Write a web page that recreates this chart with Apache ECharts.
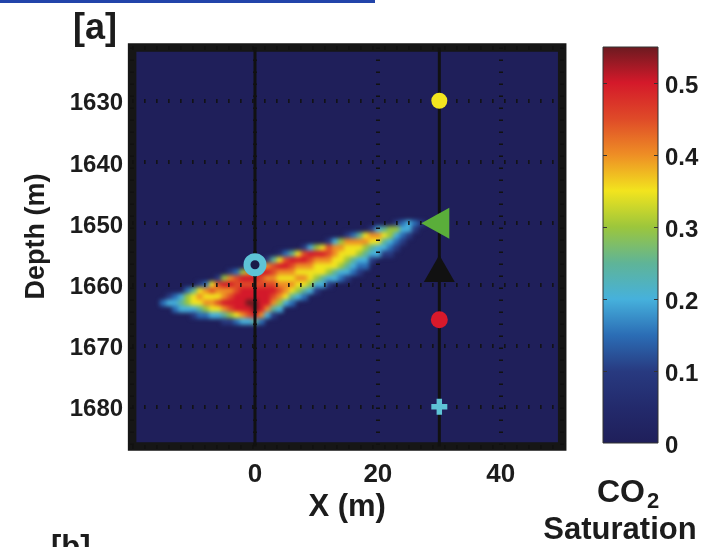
<!DOCTYPE html>
<html><head><meta charset="utf-8">
<script src="https://cdn.jsdelivr.net/npm/echarts@6/dist/echarts.min.js"></script>
<style>html,body{margin:0;padding:0;background:#fff}#c{width:719px;height:547px}</style>
</head><body><div id="c"></div>
<script>
// ---- data ----
// Saturation levels (code -> value)
const satLevels = [0, 0.05, 0.10, 0.15, 0.20, 0.25, 0.30, 0.35, 0.40, 0.45, 0.50, 0.55];
const satColors = ['#1f1f5a','#232a6c','#283a80','#2b6db5','#46b1dc','#5fb497','#9cc63c','#f2e41e','#ee8e25','#df4a28','#d4192a','#6b1a20'];
// Plume: one string per depth row (1 m cells), first cell at rowStartX, each char = level code (base 12)
const depthRows = [1650,1651,1652,1653,1654,1655,1656,1657,1658,1659,1660,1661,1662,1663,1664,1665,1666];
const rowStartX = [23,19,15,12,8,4,2,-1,-4,-6,-9,-11,-14,-15,-13,-10,-5];
const rowCodes = [
  '23432',
  '24566442',
  '23578876432',
  '2468888775432',
  '2467988777654432',
  '13579aaa98777654422',
  '2579aaa98887765442',
  '25789aa9888777765433',
  '23689aa988877777654432',
  '2689aaa988777887654432',
  '2379aa9999999888776442',
  '357898889aaaaaa9876542',
  '23467877789aaaaaa987543',
  '3445677889aaaabbaa8643',
  '3444567789aaaba854',
  '2334456789a842',
  '2234453'
];
const xRange = [-20, 50];
const depthRange = [1621.3, 1686.5];
const wellX = [0, 30];
const ringPoint = [0, 1656.8];
const monitorX = 30;
const yellowDepth = 1630, greenDepth = 1650, blackDepth = 1657.4, redDepth = 1665.8, cyanDepth = 1680;
const cbRange = [0, 0.55];
const cbTicks = [0.1, 0.2, 0.3, 0.4, 0.5];

// ---- build ----
const plume = [];
rowCodes.forEach((s, r) => {
  for (let j = 0; j < s.length; j++) {
    const v = satLevels[parseInt(s[j], 12)];
    if (v > 0) plume.push([rowStartX[r] + j, depthRows[r], v]);
  }
});
const FONT = 'Liberation Sans, Arial, Helvetica, sans-serif';
const TXT = '#1c1c1c';
const chart = echarts.init(document.getElementById('c'));
const cbStops = satColors.map((c, i) => ({offset: i / (satColors.length - 1), color: c}));
const tf = {fontWeight: 'bold', fontFamily: FONT, fill: TXT};
const lab = {fontSize: 24, fontWeight: 'bold', color: TXT, fontFamily: FONT, lineHeight: 24};

const option = {
  animation: false,
  backgroundColor: '#ffffff',
  title: [
    {text: '[a]', left: 73, top: 11, padding: 0, textStyle: {fontSize: 36, fontWeight: 'bold', color: TXT, fontFamily: FONT}},
    {text: '[b]', left: 51, top: 533, padding: 0, textStyle: {fontSize: 31, fontWeight: 'bold', color: TXT, fontFamily: FONT}}
  ],
  graphic: [
    {type: 'rect', left: 0, top: 0, shape: {width: 375, height: 3}, style: {fill: '#2244aa'}, silent: true},
    {type: 'text', x: 597, y: 493, style: Object.assign({text: 'CO', fontSize: 32, align: 'left', verticalAlign: 'middle'}, tf)},
    {type: 'text', x: 647, y: 502, style: Object.assign({text: '2', fontSize: 22, align: 'left', verticalAlign: 'middle'}, tf)},
    {type: 'text', x: 620, y: 530, style: Object.assign({text: 'Saturation', fontSize: 31, align: 'center', verticalAlign: 'middle'}, tf)}
  ],
  grid: [
    {left: 132.1, top: 47.5, width: 430.1, height: 399, show: true, backgroundColor: satColors[0], borderColor: '#161616', borderWidth: 8.5},
    {left: 603, top: 47, width: 55, height: 396, show: false}
  ],
  xAxis: [
    {gridIndex: 0, type: 'value', min: xRange[0], max: xRange[1], interval: 20, zlevel: 2, z: 3,
     name: 'X (m)', nameLocation: 'middle', nameGap: 41,
     nameTextStyle: {fontSize: 31, fontWeight: 'bold', color: TXT, fontFamily: FONT},
     axisLine: {show: false}, axisTick: {show: false},
     axisLabel: {showMinLabel: false, showMaxLabel: false, margin: 15, fontSize: 26, fontWeight: 'bold', color: TXT, fontFamily: FONT},
     splitLine: {show: true, lineStyle: {color: '#111', width: 4, type: [1.5, 10.5]}}},
    {gridIndex: 1, type: 'value', min: 0, max: 1, show: false}
  ],
  yAxis: [
    {gridIndex: 0, type: 'value', inverse: true, min: depthRange[0], max: depthRange[1], minInterval: 10, maxInterval: 10, splitNumber: 6, zlevel: 2, z: 3,
     name: 'Depth (m)', nameLocation: 'middle', nameRotate: 90, nameGap: 82,
     nameTextStyle: {fontSize: 27, fontWeight: 'bold', color: TXT, fontFamily: FONT, padding: [0, 0, 0, 21]},
     axisLine: {show: false}, axisTick: {show: false},
     axisLabel: {showMinLabel: false, showMaxLabel: false, margin: 9,
                 formatter: v => '{sp| }\n{v|' + v + '}',
                 rich: {sp: {fontSize: 1, lineHeight: 6}, v: lab}},
     splitLine: {show: true, lineStyle: {color: '#111', width: 4, type: [1.5, 10.5]}}},
    {gridIndex: 1, type: 'value', position: 'right', min: cbRange[0], max: cbRange[1], minInterval: 0.1, maxInterval: 0.1,
     axisLine: {show: false}, axisTick: {show: false},
     axisLabel: {showMaxLabel: false, margin: 7,
                 formatter: v => '{sp| }\n{v|' + (Math.round(v * 10) / 10) + '}',
                 rich: {sp: {fontSize: 1, lineHeight: 7}, v: lab}},
     splitLine: {show: false}}
  ],
  visualMap: {type: 'continuous', show: false, min: cbRange[0], max: cbRange[1], dimension: 2, seriesIndex: 0, inRange: {color: satColors}},
  series: [
    {type: 'custom', xAxisIndex: 0, yAxisIndex: 0, zlevel: 1, z: 1, data: plume, encode: {x: 0, y: 1},
     renderItem: function (params, api) {
       const x = api.value(0), y = api.value(1);
       const p0 = api.coord([x - 0.5, y - 0.5]);
       const p1 = api.coord([x + 0.5, y + 0.5]);
       return {type: 'rect', shape: {x: Math.min(p0[0], p1[0]), y: Math.min(p0[1], p1[1]), width: Math.abs(p1[0] - p0[0]) + 0.6, height: Math.abs(p1[1] - p0[1]) + 0.6},
               style: {fill: api.visual('color')}};
     }},
    {type: 'custom', xAxisIndex: 1, yAxisIndex: 1, z: 2, data: [[0, cbRange[0], 1, cbRange[1]]],
     renderItem: function (params, api) {
       const p0 = api.coord([api.value(0), api.value(1)]);
       const p1 = api.coord([api.value(2), api.value(3)]);
       const children = [{type: 'rect', shape: {x: p0[0], y: p1[1], width: p1[0] - p0[0], height: p0[1] - p1[1]},
               style: {fill: {type: 'linear', x: 0, y: 1, x2: 0, y2: 0, colorStops: cbStops}, stroke: '#333', lineWidth: 1}}];
       cbTicks.forEach(t => {
         const py = Math.round(api.coord([0, t])[1]) + 0.5;
         children.push({type: 'line', shape: {x1: p0[0], y1: py, x2: p0[0] + 4, y2: py}, style: {stroke: '#333', lineWidth: 1}});
         children.push({type: 'line', shape: {x1: p1[0] - 4, y1: py, x2: p1[0], y2: py}, style: {stroke: '#333', lineWidth: 1}});
       });
       return {type: 'group', children: children};
     }},
    ...wellX.map(wx => ({type: 'line', xAxisIndex: 0, yAxisIndex: 0, zlevel: 2, z: 4, symbol: 'none', silent: true,
       lineStyle: {color: '#111', width: 3}, data: [[wx, depthRange[0]], [wx, depthRange[1]]]})),
    {type: 'scatter', zlevel: 2, z: 6, symbol: 'circle', symbolSize: 16, itemStyle: {color: '#1a1c48', borderColor: '#5ec3d6', borderWidth: 7, opacity: 1}, data: [ringPoint]},
    {type: 'scatter', zlevel: 2, z: 6, symbol: 'circle', symbolSize: 16, itemStyle: {color: '#f3e51f', opacity: 1}, data: [[monitorX, yellowDepth]]},
    {type: 'scatter', zlevel: 2, z: 6, symbol: 'triangle', symbolRotate: 90, symbolSize: [31, 28], symbolOffset: [-4, 0], itemStyle: {color: '#5aae3a', opacity: 1}, data: [[monitorX, greenDepth]]},
    {type: 'scatter', zlevel: 2, z: 6, symbol: 'triangle', symbolSize: [31, 27], itemStyle: {color: '#111', opacity: 1}, data: [[monitorX, blackDepth]]},
    {type: 'scatter', zlevel: 2, z: 6, symbol: 'circle', symbolSize: 17, itemStyle: {color: '#d8192b', opacity: 1}, data: [[monitorX, redDepth]]},
    {type: 'scatter', zlevel: 2, z: 6, symbol: 'path://M33,0H67V33H100V67H67V100H33V67H0V33H33Z', symbolSize: 16, itemStyle: {color: '#5ec3d6', opacity: 1}, data: [[monitorX, cyanDepth]]}
  ]
};
chart.setOption(option);
// soften the 1 m cells of the plume layer like the smooth shading of the original
try {
  const layer = chart.getZr().painter.getLayer(1);
  if (layer && layer.dom) layer.dom.style.filter = 'blur(2.2px)';
} catch (e) {}
</script>
</body></html>
